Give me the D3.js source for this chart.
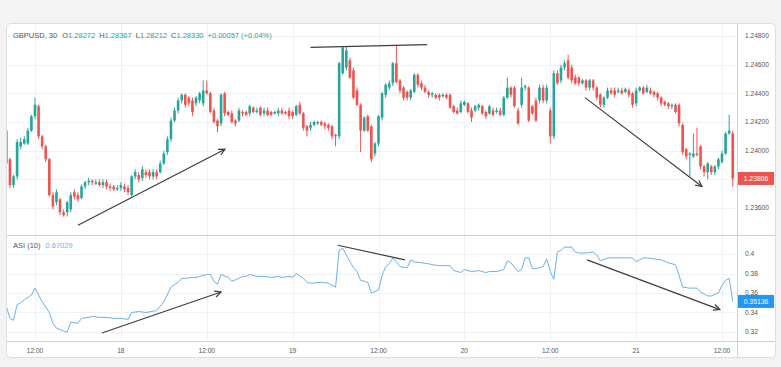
<!DOCTYPE html>
<html><head><meta charset="utf-8">
<script src="https://cdn.jsdelivr.net/npm/d3@7"></script>
<style>
html,body{margin:0;padding:0;background:#f3f3f3;}
svg{display:block;}
text{font-family:"Liberation Sans",Arial,sans-serif;}
</style></head><body>
<svg id="c" width="781" height="367"></svg>
<script>
// ---------- DATA ----------
const symbolTitle = "GBPUSD, 30";
const ohlcLabels = [["O","1.28272"],["H","1.28367"],["L","1.28212"],["C","1.28330"]];
const changeText = "+0.00057 (+0.04%)";
const asiTitle = "ASI (10)";
const asiHeaderValue = "0.67029";

const open = [
1.2414,1.2394,1.2376,1.2382,1.2403,1.2405,1.2405,1.2414,1.2424,1.2431,
1.2410,1.2403,1.2394,1.2369,1.2364,1.2366,1.2357,1.2357,1.2359,1.2371,
1.2369,1.2367,1.2375,1.2378,1.2379,1.2377,1.2378,1.2376,1.2378,1.2375,
1.2375,1.2373,1.2374,1.2375,1.2374,1.2369,1.2382,1.2383,1.2381,1.2385,
1.2385,1.2382,1.2385,1.2385,1.2391,1.2399,1.2408,1.2421,1.2428,1.2435,
1.2439,1.2437,1.2435,1.2433,1.2435,1.2433,1.2442,1.2440,1.2428,1.2421,
1.2419,1.2440,1.2427,1.2426,1.2421,1.2421,1.2427,1.2427,1.2426,1.2430,
1.2427,1.2430,1.2426,1.2428,1.2427,1.2426,1.2426,1.2428,1.2427,1.2428,
1.2427,1.2425,1.2432,1.2426,1.2417,1.2416,1.2418,1.2419,1.2420,1.2419,
1.2418,1.2417,1.2411,1.2410,1.2454,1.2458,1.2463,1.2456,1.2442,1.2432,
1.2414,1.2424,1.2417,1.2398,1.2405,1.2423,1.2439,1.2444,1.2447,1.2461,
1.2449,1.2444,1.2441,1.2437,1.2441,1.2453,1.2447,1.2444,1.2441,1.2439,
1.2439,1.2439,1.2438,1.2439,1.2439,1.2431,1.2428,1.2427,1.2432,1.2433,
1.2428,1.2428,1.2430,1.2431,1.2427,1.2426,1.2428,1.2427,1.2428,1.2425,
1.2437,1.2444,1.2444,1.2428,1.2432,1.2444,1.2444,1.2431,1.2435,1.2435,
1.2444,1.2435,1.2428,1.2410,1.2454,1.2449,1.2458,1.2463,1.2458,1.2451,
1.2451,1.2447,1.2449,1.2444,1.2449,1.2444,1.2439,1.2432,1.2437,1.2442,
1.2442,1.2441,1.2442,1.2441,1.2442,1.2440,1.2433,1.2442,1.2444,1.2441,
1.2442,1.2441,1.2440,1.2437,1.2434,1.2433,1.2431,1.2432,1.2432,1.2418,
1.2401,1.2397,1.2396,1.2398,1.2403,1.2389,1.2385,1.2389,1.2385,1.2389,
1.2392,1.2398,1.2412,1.2412];

const high = [
1.2416,1.2395,1.2383,1.2408,1.2409,1.2410,1.2416,1.2425,1.2437,1.2432,
1.2411,1.2404,1.2395,1.2371,1.2373,1.2367,1.2359,1.2365,1.2371,1.2373,
1.2371,1.2376,1.2379,1.2381,1.2380,1.2380,1.2380,1.2380,1.2380,1.2377,
1.2376,1.2376,1.2378,1.2377,1.2376,1.2383,1.2387,1.2385,1.2389,1.2387,
1.2387,1.2387,1.2387,1.2393,1.2400,1.2410,1.2423,1.2430,1.2437,1.2440,
1.2440,1.2438,1.2437,1.2438,1.2441,1.2449,1.2449,1.2441,1.2430,1.2422,
1.2440,1.2441,1.2428,1.2428,1.2422,1.2430,1.2428,1.2428,1.2432,1.2431,
1.2430,1.2431,1.2430,1.2430,1.2428,1.2428,1.2430,1.2430,1.2428,1.2430,
1.2428,1.2432,1.2434,1.2427,1.2418,1.2420,1.2421,1.2421,1.2421,1.2420,
1.2419,1.2418,1.2412,1.2462,1.2473,1.2473,1.2465,1.2458,1.2444,1.2433,
1.2424,1.2425,1.2418,1.2406,1.2425,1.2441,1.2447,1.2449,1.2462,1.2474,
1.2450,1.2445,1.2442,1.2443,1.2454,1.2454,1.2449,1.2446,1.2442,1.2441,
1.2440,1.2440,1.2440,1.2440,1.2440,1.2432,1.2430,1.2435,1.2435,1.2434,
1.2430,1.2432,1.2433,1.2432,1.2428,1.2432,1.2430,1.2430,1.2430,1.2438,
1.2451,1.2445,1.2445,1.2430,1.2451,1.2446,1.2445,1.2432,1.2437,1.2446,
1.2446,1.2446,1.2430,1.2456,1.2456,1.2460,1.2463,1.2467,1.2460,1.2453,
1.2452,1.2450,1.2450,1.2450,1.2450,1.2445,1.2440,1.2438,1.2444,1.2444,
1.2444,1.2444,1.2444,1.2444,1.2444,1.2441,1.2444,1.2445,1.2445,1.2446,
1.2444,1.2442,1.2441,1.2438,1.2435,1.2434,1.2433,1.2433,1.2433,1.2419,
1.2402,1.2399,1.2412,1.2416,1.2404,1.2390,1.2392,1.2390,1.2390,1.2395,
1.2400,1.2413,1.2425,1.2414];

const low = [
1.2390,1.2374,1.2374,1.2380,1.2401,1.2404,1.2404,1.2413,1.2422,1.2408,
1.2401,1.2392,1.2368,1.2359,1.2362,1.2355,1.2354,1.2354,1.2357,1.2366,
1.2364,1.2366,1.2373,1.2376,1.2376,1.2376,1.2375,1.2374,1.2373,1.2372,
1.2372,1.2372,1.2372,1.2371,1.2369,1.2368,1.2380,1.2378,1.2379,1.2381,
1.2380,1.2380,1.2380,1.2384,1.2390,1.2397,1.2406,1.2420,1.2426,1.2433,
1.2430,1.2431,1.2424,1.2431,1.2433,1.2431,1.2439,1.2426,1.2419,1.2413,
1.2417,1.2424,1.2424,1.2419,1.2417,1.2420,1.2424,1.2424,1.2424,1.2426,
1.2426,1.2424,1.2424,1.2424,1.2424,1.2425,1.2424,1.2425,1.2425,1.2422,
1.2422,1.2424,1.2425,1.2414,1.2410,1.2414,1.2417,1.2418,1.2417,1.2415,
1.2414,1.2408,1.2403,1.2408,1.2453,1.2456,1.2450,1.2436,1.2431,1.2399,
1.2413,1.2413,1.2392,1.2396,1.2403,1.2421,1.2437,1.2442,1.2445,1.2447,
1.2440,1.2435,1.2435,1.2435,1.2440,1.2444,1.2442,1.2440,1.2437,1.2437,
1.2436,1.2435,1.2437,1.2436,1.2429,1.2426,1.2425,1.2426,1.2431,1.2426,
1.2420,1.2427,1.2428,1.2425,1.2422,1.2425,1.2424,1.2426,1.2424,1.2424,
1.2436,1.2437,1.2430,1.2418,1.2430,1.2442,1.2420,1.2425,1.2420,1.2433,
1.2433,1.2433,1.2405,1.2408,1.2446,1.2447,1.2456,1.2450,1.2447,1.2446,
1.2445,1.2446,1.2442,1.2442,1.2442,1.2435,1.2430,1.2430,1.2436,1.2439,
1.2437,1.2440,1.2439,1.2440,1.2437,1.2430,1.2431,1.2441,1.2439,1.2440,
1.2439,1.2437,1.2435,1.2431,1.2431,1.2429,1.2429,1.2426,1.2417,1.2397,
1.2394,1.2382,1.2395,1.2396,1.2387,1.2382,1.2380,1.2383,1.2383,1.2387,
1.2391,1.2397,1.2411,1.2375];

const close = [
1.2391,1.2376,1.2382,1.2406,1.2406,1.2408,1.2414,1.2424,1.2432,1.2410,
1.2403,1.2394,1.2369,1.2361,1.2371,1.2357,1.2355,1.2364,1.2369,1.2368,
1.2366,1.2375,1.2378,1.2379,1.2378,1.2378,1.2376,1.2378,1.2375,1.2374,
1.2373,1.2374,1.2376,1.2373,1.2371,1.2382,1.2385,1.2380,1.2387,1.2383,
1.2382,1.2385,1.2382,1.2391,1.2398,1.2408,1.2421,1.2428,1.2435,1.2439,
1.2432,1.2433,1.2427,1.2437,1.2440,1.2442,1.2440,1.2427,1.2420,1.2417,
1.2439,1.2426,1.2425,1.2420,1.2419,1.2428,1.2426,1.2425,1.2431,1.2427,
1.2428,1.2425,1.2428,1.2425,1.2425,1.2427,1.2428,1.2426,1.2426,1.2424,
1.2424,1.2431,1.2426,1.2416,1.2414,1.2418,1.2420,1.2420,1.2418,1.2417,
1.2416,1.2410,1.2410,1.2461,1.2472,1.2470,1.2451,1.2437,1.2432,1.2414,
1.2423,1.2414,1.2394,1.2405,1.2424,1.2440,1.2446,1.2447,1.2461,1.2448,
1.2442,1.2437,1.2437,1.2442,1.2453,1.2446,1.2444,1.2441,1.2439,1.2440,
1.2437,1.2437,1.2439,1.2437,1.2430,1.2427,1.2426,1.2433,1.2434,1.2427,
1.2423,1.2431,1.2432,1.2426,1.2424,1.2431,1.2425,1.2428,1.2425,1.2437,
1.2444,1.2439,1.2431,1.2419,1.2444,1.2445,1.2421,1.2426,1.2421,1.2444,
1.2435,1.2444,1.2410,1.2454,1.2447,1.2458,1.2461,1.2451,1.2449,1.2447,
1.2447,1.2449,1.2444,1.2449,1.2444,1.2437,1.2432,1.2437,1.2442,1.2440,
1.2439,1.2442,1.2440,1.2443,1.2439,1.2432,1.2442,1.2444,1.2440,1.2444,
1.2440,1.2439,1.2437,1.2433,1.2432,1.2431,1.2432,1.2427,1.2419,1.2399,
1.2396,1.2398,1.2398,1.2397,1.2389,1.2385,1.2391,1.2385,1.2389,1.2394,
1.2398,1.2412,1.2414,1.23806];

// ASI line: bar index and value of each read point
const asiIdx = [0,1,2,3,4,5,7,8,9,10,12,13,14,16,17,18,20,21,23,24,26,28,30,32,34,35,37,39,42,44,
46,48,49,50,52,53,54,56,57,58,59,60,62,63,65,66,67,68,70,72,74,76,77,79,80,81,83,84,85,88,
90,92,93,94,95,97,98,99,101,102,104,105,106,107,108,109,110,112,113,114,116,118,119,121,124,125,127,128,130,132,
134,135,137,139,140,141,143,144,145,146,147,148,150,151,152,153,154,155,156,158,159,160,162,164,165,166,168,171,173,175,
176,178,179,181,183,185,187,188,189,191,193,194,196,197,199,200,201,202,203];
const asiVal = [0.346,0.334,0.332,0.348,0.350,0.353,0.358,0.365,0.358,0.351,0.340,0.329,0.324,0.321,0.320,0.330,0.329,0.334,0.335,0.336,
0.335,0.335,0.334,0.334,0.333,0.340,0.341,0.340,0.342,0.351,
0.366,0.371,0.375,0.375,0.376,0.376,0.377,0.379,0.379,0.372,0.369,0.379,0.376,0.372,0.375,0.377,0.377,0.379,0.377,0.377,
0.376,0.377,0.376,0.377,0.376,0.380,0.375,0.371,0.370,0.371,
0.370,0.366,0.404,0.406,0.399,0.386,0.382,0.373,0.371,0.360,0.363,0.378,0.387,0.390,0.396,0.392,0.387,0.386,0.394,0.392,
0.391,0.390,0.389,0.388,0.388,0.383,0.381,0.384,0.382,0.383,
0.381,0.382,0.382,0.384,0.393,0.391,0.382,0.384,0.396,0.396,0.385,0.385,0.387,0.395,0.382,0.374,0.402,0.404,0.407,0.407,
0.402,0.401,0.401,0.402,0.399,0.393,0.396,0.396,0.396,0.396,
0.392,0.396,0.396,0.395,0.394,0.391,0.389,0.378,0.366,0.365,0.365,0.361,0.357,0.357,0.360,0.368,0.373,0.375,0.35136];

const priceTicks = [1.236,1.238,1.240,1.242,1.244,1.246,1.248];
const asiTicks = [0.32,0.34,0.36,0.38,0.40];
const asiTickLabels = ["0.32","0.34","0.36","0.38","0.4"];
const timeTickIdx = [8,32,56,80,104,128,152,176,200];
const timeTickLabels = ["12:00","18","12:00","19","12:00","20","12:00","21","12:00"];

// drawn trend lines (bar index, value)
const priceTrendLines = [
  {from:[20,1.2348], to:[61.1,1.2401], arrow:true},
  {from:[85,1.2472], to:[117.6,1.2474], arrow:false},
  {from:[161.7,1.2437], to:[194.4,1.2375], arrow:true}
];
const asiTrendLines = [
  {from:[26.7,0.319], to:[60,0.361], arrow:true},
  {from:[92.6,0.409], to:[111.4,0.394], arrow:false},
  {from:[162.3,0.394], to:[199.4,0.343], arrow:true}
];

// ---------- LAYOUT ----------
const cardL=6, cardR=776, cardT=23, cardB=358;
const plotR=737, sep1=235, sep2=341;
const UP="#26a69a", DOWN="#ef5350", ASI_COL="#6cb0ee", BLUE="#2196f3";
const GRID="#f0f1f4", BORDER="#dcdde0", TXT="#555", LINE="#3a3d45";

const svg = d3.select("#c");
const x = d3.scaleLinear().domain([8,200]).range([35,722]);
const yP = d3.scaleLinear().domain([1.236,1.248]).range([208,36]);
const yA = d3.scaleLinear().domain([0.32,0.40]).range([332,254]);

// card
svg.append("rect").attr("x",cardL+0.5).attr("y",cardT+0.5).attr("width",cardR-cardL-1).attr("height",cardB-cardT-1)
  .attr("rx",4).attr("fill","#fff").attr("stroke",BORDER);

const defs = svg.append("defs");
defs.append("clipPath").attr("id","cp1").append("rect").attr("x",cardL+1).attr("y",cardT+1).attr("width",plotR-cardL-1).attr("height",sep1-cardT-1);
defs.append("clipPath").attr("id","cp2").append("rect").attr("x",cardL+1).attr("y",sep1+1).attr("width",plotR-cardL-1).attr("height",sep2-sep1-1);

// grid
const g = svg.append("g");
g.selectAll(".vg").data(timeTickIdx).join("line")
  .attr("x1",d=>Math.round(x(d))+0.5).attr("x2",d=>Math.round(x(d))+0.5)
  .attr("y1",cardT+1).attr("y2",sep2).attr("stroke",GRID);
g.selectAll(".hg").data(priceTicks).join("line")
  .attr("x1",cardL+1).attr("x2",plotR).attr("y1",d=>Math.round(yP(d))+0.5).attr("y2",d=>Math.round(yP(d))+0.5).attr("stroke",GRID);
g.selectAll(".ag").data(asiTicks).join("line")
  .attr("x1",cardL+1).attr("x2",plotR).attr("y1",d=>Math.round(yA(d))+0.5).attr("y2",d=>Math.round(yA(d))+0.5).attr("stroke",GRID);

// separators
svg.append("line").attr("x1",cardL+1).attr("x2",cardR-1).attr("y1",sep1+0.5).attr("y2",sep1+0.5).attr("stroke","#cfd0d3");
svg.append("line").attr("x1",cardL+1).attr("x2",cardR-1).attr("y1",sep2+0.5).attr("y2",sep2+0.5).attr("stroke","#cfd0d3");
svg.append("line").attr("x1",plotR+0.5).attr("x2",plotR+0.5).attr("y1",cardT+1).attr("y2",cardB-1).attr("stroke","#cfd0d3");

// candles
const candles = d3.range(open.length).map(i=>({i,o:open[i],h:high[i],l:low[i],c:close[i]}));
const cg = svg.append("g").attr("clip-path","url(#cp1)");
const bw = 2.6;
cg.selectAll(".wick").data(candles).join("line")
  .attr("x1",d=>x(d.i)).attr("x2",d=>x(d.i))
  .attr("y1",d=>yP(d.h)).attr("y2",d=>yP(d.l))
  .attr("stroke",d=>d.c>=d.o?UP:DOWN).attr("stroke-width",1);
cg.selectAll(".body").data(candles).join("rect")
  .attr("x",d=>x(d.i)-bw/2).attr("width",bw)
  .attr("y",d=>yP(Math.max(d.o,d.c)))
  .attr("height",d=>Math.max(1,Math.abs(yP(d.o)-yP(d.c))))
  .attr("fill",d=>d.c>=d.o?UP:DOWN);

// ASI line
const ag = svg.append("g").attr("clip-path","url(#cp2)");
ag.append("path").datum(asiIdx.map((d,k)=>[d,asiVal[k]]))
  .attr("d",d3.line().x(d=>x(d[0])).y(d=>yA(d[1])))
  .attr("fill","none").attr("stroke",ASI_COL).attr("stroke-width",1);

// trend lines
function drawTrend(parent, t, ys){
  const x1=x(t.from[0]), y1=ys(t.from[1]), x2=x(t.to[0]), y2=ys(t.to[1]);
  parent.append("line").attr("x1",x1).attr("y1",y1).attr("x2",x2).attr("y2",y2)
    .attr("stroke",LINE).attr("stroke-width",1.2);
  if(t.arrow){
    const a=Math.atan2(y2-y1,x2-x1), L=7, s=0.45;
    const p1=[x2-L*Math.cos(a-s), y2-L*Math.sin(a-s)], p2=[x2-L*Math.cos(a+s), y2-L*Math.sin(a+s)];
    parent.append("path").attr("d",`M${p1[0]},${p1[1]}L${x2},${y2}L${p2[0]},${p2[1]}`)
      .attr("fill","none").attr("stroke",LINE).attr("stroke-width",1.2);
  }
}
const tg1 = svg.append("g").attr("clip-path","url(#cp1)");
priceTrendLines.forEach(t=>drawTrend(tg1,t,yP));
const tg2 = svg.append("g").attr("clip-path","url(#cp2)");
asiTrendLines.forEach(t=>drawTrend(tg2,t,yA));

// right price axis
const fmt5 = d3.format(".5f");
const lastClose = close[close.length-1];
const lastAsi = asiVal[asiVal.length-1];
svg.selectAll(".pl").data(priceTicks.filter(d=>Math.abs(yP(d)-yP(lastClose))>9)).join("text")
  .attr("x",745).attr("y",d=>yP(d)+2.3).attr("font-size",6.6).attr("fill",TXT).text(d=>fmt5(d));
svg.selectAll(".al").data(asiTicks).join("text")
  .attr("x",745).attr("y",d=>yA(d)+2.3).attr("font-size",6.6).attr("fill",TXT).text((d,k)=>asiTickLabels[k]);

// last value labels
function tag(yv, txt, col){
  svg.append("rect").attr("x",plotR+1).attr("y",yv-6.5).attr("width",36).attr("height",13).attr("fill",col);
  svg.append("text").attr("x",plotR+19).attr("y",yv+2.4).attr("text-anchor","middle")
    .attr("font-size",6.8).attr("fill","#fff").text(txt);
}
tag(yP(lastClose), fmt5(lastClose), DOWN);
tag(yA(lastAsi), fmt5(lastAsi), BLUE);

// time axis
svg.selectAll(".tl").data(timeTickIdx).join("text")
  .attr("x",d=>x(d)).attr("y",352.5).attr("text-anchor","middle").attr("font-size",6.6).attr("fill",TXT)
  .text((d,k)=>timeTickLabels[k]);

// headers
const h1 = svg.append("text").attr("x",13).attr("y",37.5).attr("font-size",7.5).attr("fill",TXT);
h1.append("tspan").text(symbolTitle);
ohlcLabels.forEach((p,k)=>{
  h1.append("tspan").attr("dx",k===0?5:4).attr("fill",TXT).text(p[0]);
  h1.append("tspan").attr("fill",UP).text(p[1]);
});
h1.append("tspan").attr("dx",4).attr("fill",UP).text(changeText);

const h2 = svg.append("text").attr("x",13).attr("y",248).attr("font-size",7.5).attr("fill",TXT);
h2.append("tspan").text(asiTitle);
h2.append("tspan").attr("dx",5).attr("fill",ASI_COL).text(asiHeaderValue);
</script>
</body></html>
